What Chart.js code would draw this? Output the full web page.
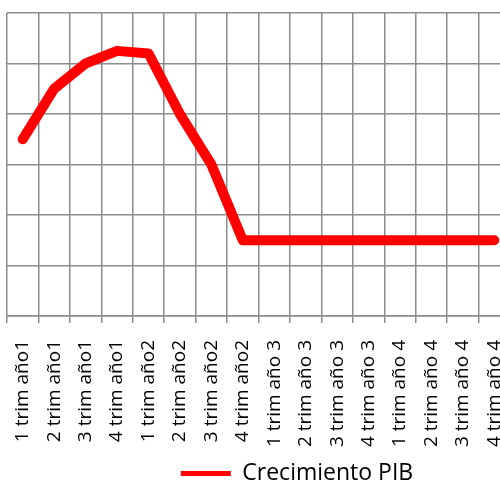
<!DOCTYPE html>
<html>
<head>
<meta charset="utf-8">
<script src="https://cdn.jsdelivr.net/npm/chart.js@4.4.0/dist/chart.umd.min.js"></script>
<style>
  html, body { margin: 0; padding: 0; background: #fff; overflow: hidden; }
  #wrap { position: absolute; left: 0; top: 0; }
</style>
</head>
<body>
<div id="wrap"><canvas id="chart" width="587" height="482"></canvas></div>
<script>
// trimestres
const trimestres = [
  '1 trim año1', '2 trim año1', '3 trim año1', '4 trim año1',
  '1 trim año2', '2 trim año2', '3 trim año2', '4 trim año2',
  '1 trim año 3', '2 trim año 3', '3 trim año 3', '4 trim año 3',
  '1 trim año 4', '2 trim año 4', '3 trim año 4', '4 trim año 4'
];
const crecimientoPIB = [3.5, 4.5, 5, 5.25, 5.2, 4, 3, 1.5, 1.5, 1.5, 1.5, 1.5, 1.5, 1.5, 1.5, 1.5];
const yMin = 0;
const yMax = 6;

const gridColor = '#8c8c8c';
const fontFamily = "'Open Sans', sans-serif";

const ctx = document.getElementById('chart').getContext('2d');
new Chart(ctx, {
  type: 'line',
  data: {
    labels: trimestres,
    datasets: [{
      label: 'Crecimiento PIB',
      data: crecimientoPIB,
      borderColor: '#ff0000',
      backgroundColor: '#ff0000',
      borderWidth: 10,
      borderCapStyle: 'round',
      borderJoinStyle: 'round',
      tension: 0,
      pointRadius: 0,
      fill: false
    }]
  },
  options: {
    responsive: false,
    animation: false,
    devicePixelRatio: 1,
    layout: { padding: { left: 7, top: 13, right: 0, bottom: -13 } },
    plugins: {
      title: { display: false },
      tooltip: { enabled: false },
      legend: {
        position: 'bottom',
        labels: {
          color: '#000',
          font: { family: fontFamily, size: 23 },
          boxWidth: 50,
          boxHeight: 5,
          padding: 6,
          generateLabels: (chart) => chart.data.datasets.map((ds, i) => ({
            text: ds.label,
            fillStyle: ds.borderColor,
            strokeStyle: ds.borderColor,
            lineWidth: 0,
            fontColor: '#000',
            datasetIndex: i
          }))
        }
      }
    },
    scales: {
      x: {
        offset: true,
        grid: { offset: true, color: gridColor, lineWidth: 1.5, tickLength: 7 },
        border: { display: true, color: gridColor, width: 1.5 },
        ticks: {
          color: '#000',
          font: { family: fontFamily, size: 19 },
          minRotation: 90,
          maxRotation: 90,
          autoSkip: false,
          padding: 17
        },
        afterFit: (s) => { s.height = 140; }
      },
      y: {
        min: yMin,
        max: yMax,
        ticks: { display: false, stepSize: 1 },
        grid: { color: gridColor, lineWidth: 1.5, drawTicks: false },
        border: { display: false }
      },
      yPad: {
        position: 'right',
        display: true,
        ticks: { display: false },
        grid: { display: false },
        border: { display: false },
        afterFit: (s) => { s.width = 77; }
      }
    }
  }
});
</script>
</body>
</html>
